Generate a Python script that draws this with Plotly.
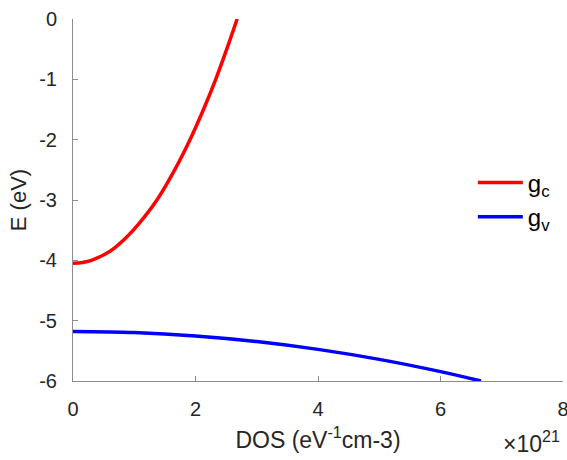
import plotly.graph_objects as go

# Conduction band DOS (units of 1e21 eV^-1 cm^-3) vs energy (eV)
E_c = [-4.05, -4.04, -4.02, -4.0, -3.9, -3.8, -3.6, -3.4, -3.0, -2.5, -2.0, -1.5, -1.0, -0.5, 0.0]
g_c = [0.0, 0.13, 0.23, 0.30, 0.52, 0.67, 0.89, 1.07, 1.37, 1.66, 1.91, 2.13, 2.33, 2.51, 2.68]

# Valence band DOS
g_v = [0.0, 1.0, 2.0, 3.0, 4.0, 5.0, 6.0, 6.66]
E_v = [-5.18, -5.198, -5.254, -5.346, -5.476, -5.642, -5.845, -6.0]

x_ticks = [0, 2, 4, 6, 8]
y_ticks = [0, -1, -2, -3, -4, -5, -6]

font = "Liberation Sans, Arial, Helvetica, sans-serif"
tc = "#262626"

fig = go.Figure()
fig.add_trace(go.Scatter(x=g_c, y=E_c, mode="lines", name="g<sub>c</sub>",
                         line=dict(color="#ff0000", width=3.5, shape="spline")))
fig.add_trace(go.Scatter(x=g_v, y=E_v, mode="lines", name="g<sub>v</sub>",
                         line=dict(color="#0000ff", width=3.5, shape="spline")))

fig.update_layout(
    width=567, height=460,
    margin=dict(l=73, r=4, t=19, b=79),
    paper_bgcolor="white", plot_bgcolor="white",
    font=dict(family=font, size=20, color=tc),
    showlegend=True,
    legend=dict(x=0.816, y=0.5, xanchor="left", yanchor="middle",
                bgcolor="rgba(0,0,0,0)", font=dict(size=24, color="black"),
                tracegroupgap=0, itemwidth=45),
    xaxis=dict(range=[0, 8], tickvals=x_ticks, ticktext=[str(v) for v in x_ticks],
               showline=True, linecolor="#8c8c8c", linewidth=1, mirror=False,
               ticks="inside", ticklen=5, tickcolor="#8c8c8c", automargin=False,
               showgrid=False, zeroline=False, ticklabeloverflow="allow",
               ticklabelstandoff=10,
               tickfont=dict(size=20, color=tc),
               title=dict(text="DOS (eV<sup>-1</sup>cm-3)", font=dict(size=23, color=tc), standoff=12)),
    yaxis=dict(range=[-6, 0], tickvals=y_ticks, ticktext=[str(v) for v in y_ticks],
               showline=True, linecolor="#8c8c8c", linewidth=1, mirror=False,
               ticks="inside", ticklen=5, tickcolor="#8c8c8c", automargin=False,
               showgrid=False, zeroline=False, ticklabeloverflow="allow",
               ticklabelstandoff=11,
               tickfont=dict(size=20, color=tc),
               title=dict(text="E (eV)", font=dict(size=22, color=tc), standoff=6)),
)

fig.add_annotation(x=1.0, y=0, xref="paper", yref="paper",
                   xanchor="right", yanchor="top", yshift=-44, xshift=-1,
                   text="×10<sup>21</sup>", showarrow=False,
                   font=dict(family=font, size=23, color=tc))

fig.write_html("out.html")
